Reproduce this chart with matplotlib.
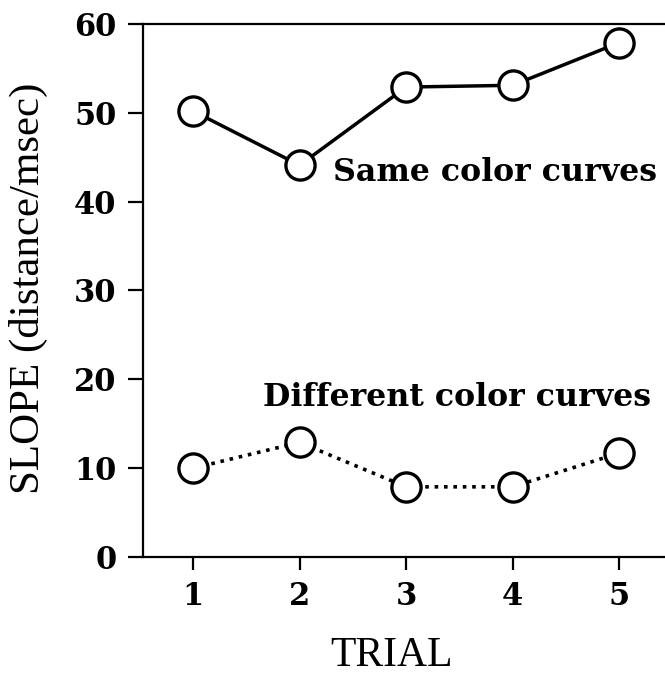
import numpy as np
import matplotlib.pyplot as plt

# data
trials = [1, 2, 3, 4, 5]
same_color = [50.2, 44.1, 52.9, 53.1, 57.9]
diff_color = [10.0, 12.9, 7.9, 7.9, 11.7]
y_ticks = [0, 10, 20, 30, 40, 50, 60]

fig = plt.figure(figsize=(6.65, 6.74), dpi=100)
ax = fig.add_axes([143/665, 1 - 557/674, 522/665, 533/674])

marker_style = dict(marker='o', markersize=21, markerfacecolor='white',
                    markeredgecolor='black', markeredgewidth=2.4, color='black')

ax.plot(trials, same_color, linestyle='-', linewidth=2.5, **marker_style)
ax.plot(trials, diff_color, linestyle=(0, (1, 1.6)), linewidth=2.6, **marker_style)

ax.set_xlim(0.53, 5.43)
ax.set_ylim(0, 60)
ax.set_xticks(trials)
ax.set_yticks(y_ticks)

ax.spines['right'].set_visible(False)
for side in ['left', 'top', 'bottom']:
    ax.spines[side].set_linewidth(1.6)

ax.tick_params(axis='y', direction='out', length=11, width=1.6, pad=8)
ax.tick_params(axis='x', direction='out', length=9, width=1.6, pad=8)
for lab in ax.get_xticklabels() + ax.get_yticklabels():
    lab.set_fontfamily('DejaVu Serif')
    lab.set_fontweight('bold')
    lab.set_fontsize(22)

ax.set_ylabel('SLOPE (distance/msec)', fontfamily='Liberation Serif', fontsize=31, va='center')
ax.yaxis.set_label_coords(-0.22, 0.505)
ax.set_xlabel('TRIAL', fontfamily='Liberation Serif', fontsize=30, va='center')
ax.xaxis.set_label_coords(0.477, -0.186)

ax.text(2.31, 43.3, 'Same color curves', fontfamily='DejaVu Serif', fontweight='bold',
        fontsize=22.8, ha='left', va='center')
ax.text(1.66, 18.0, 'Different color curves', fontfamily='DejaVu Serif', fontweight='bold',
        fontsize=22.8, ha='left', va='center')

fig.savefig('out.png', dpi=100)
